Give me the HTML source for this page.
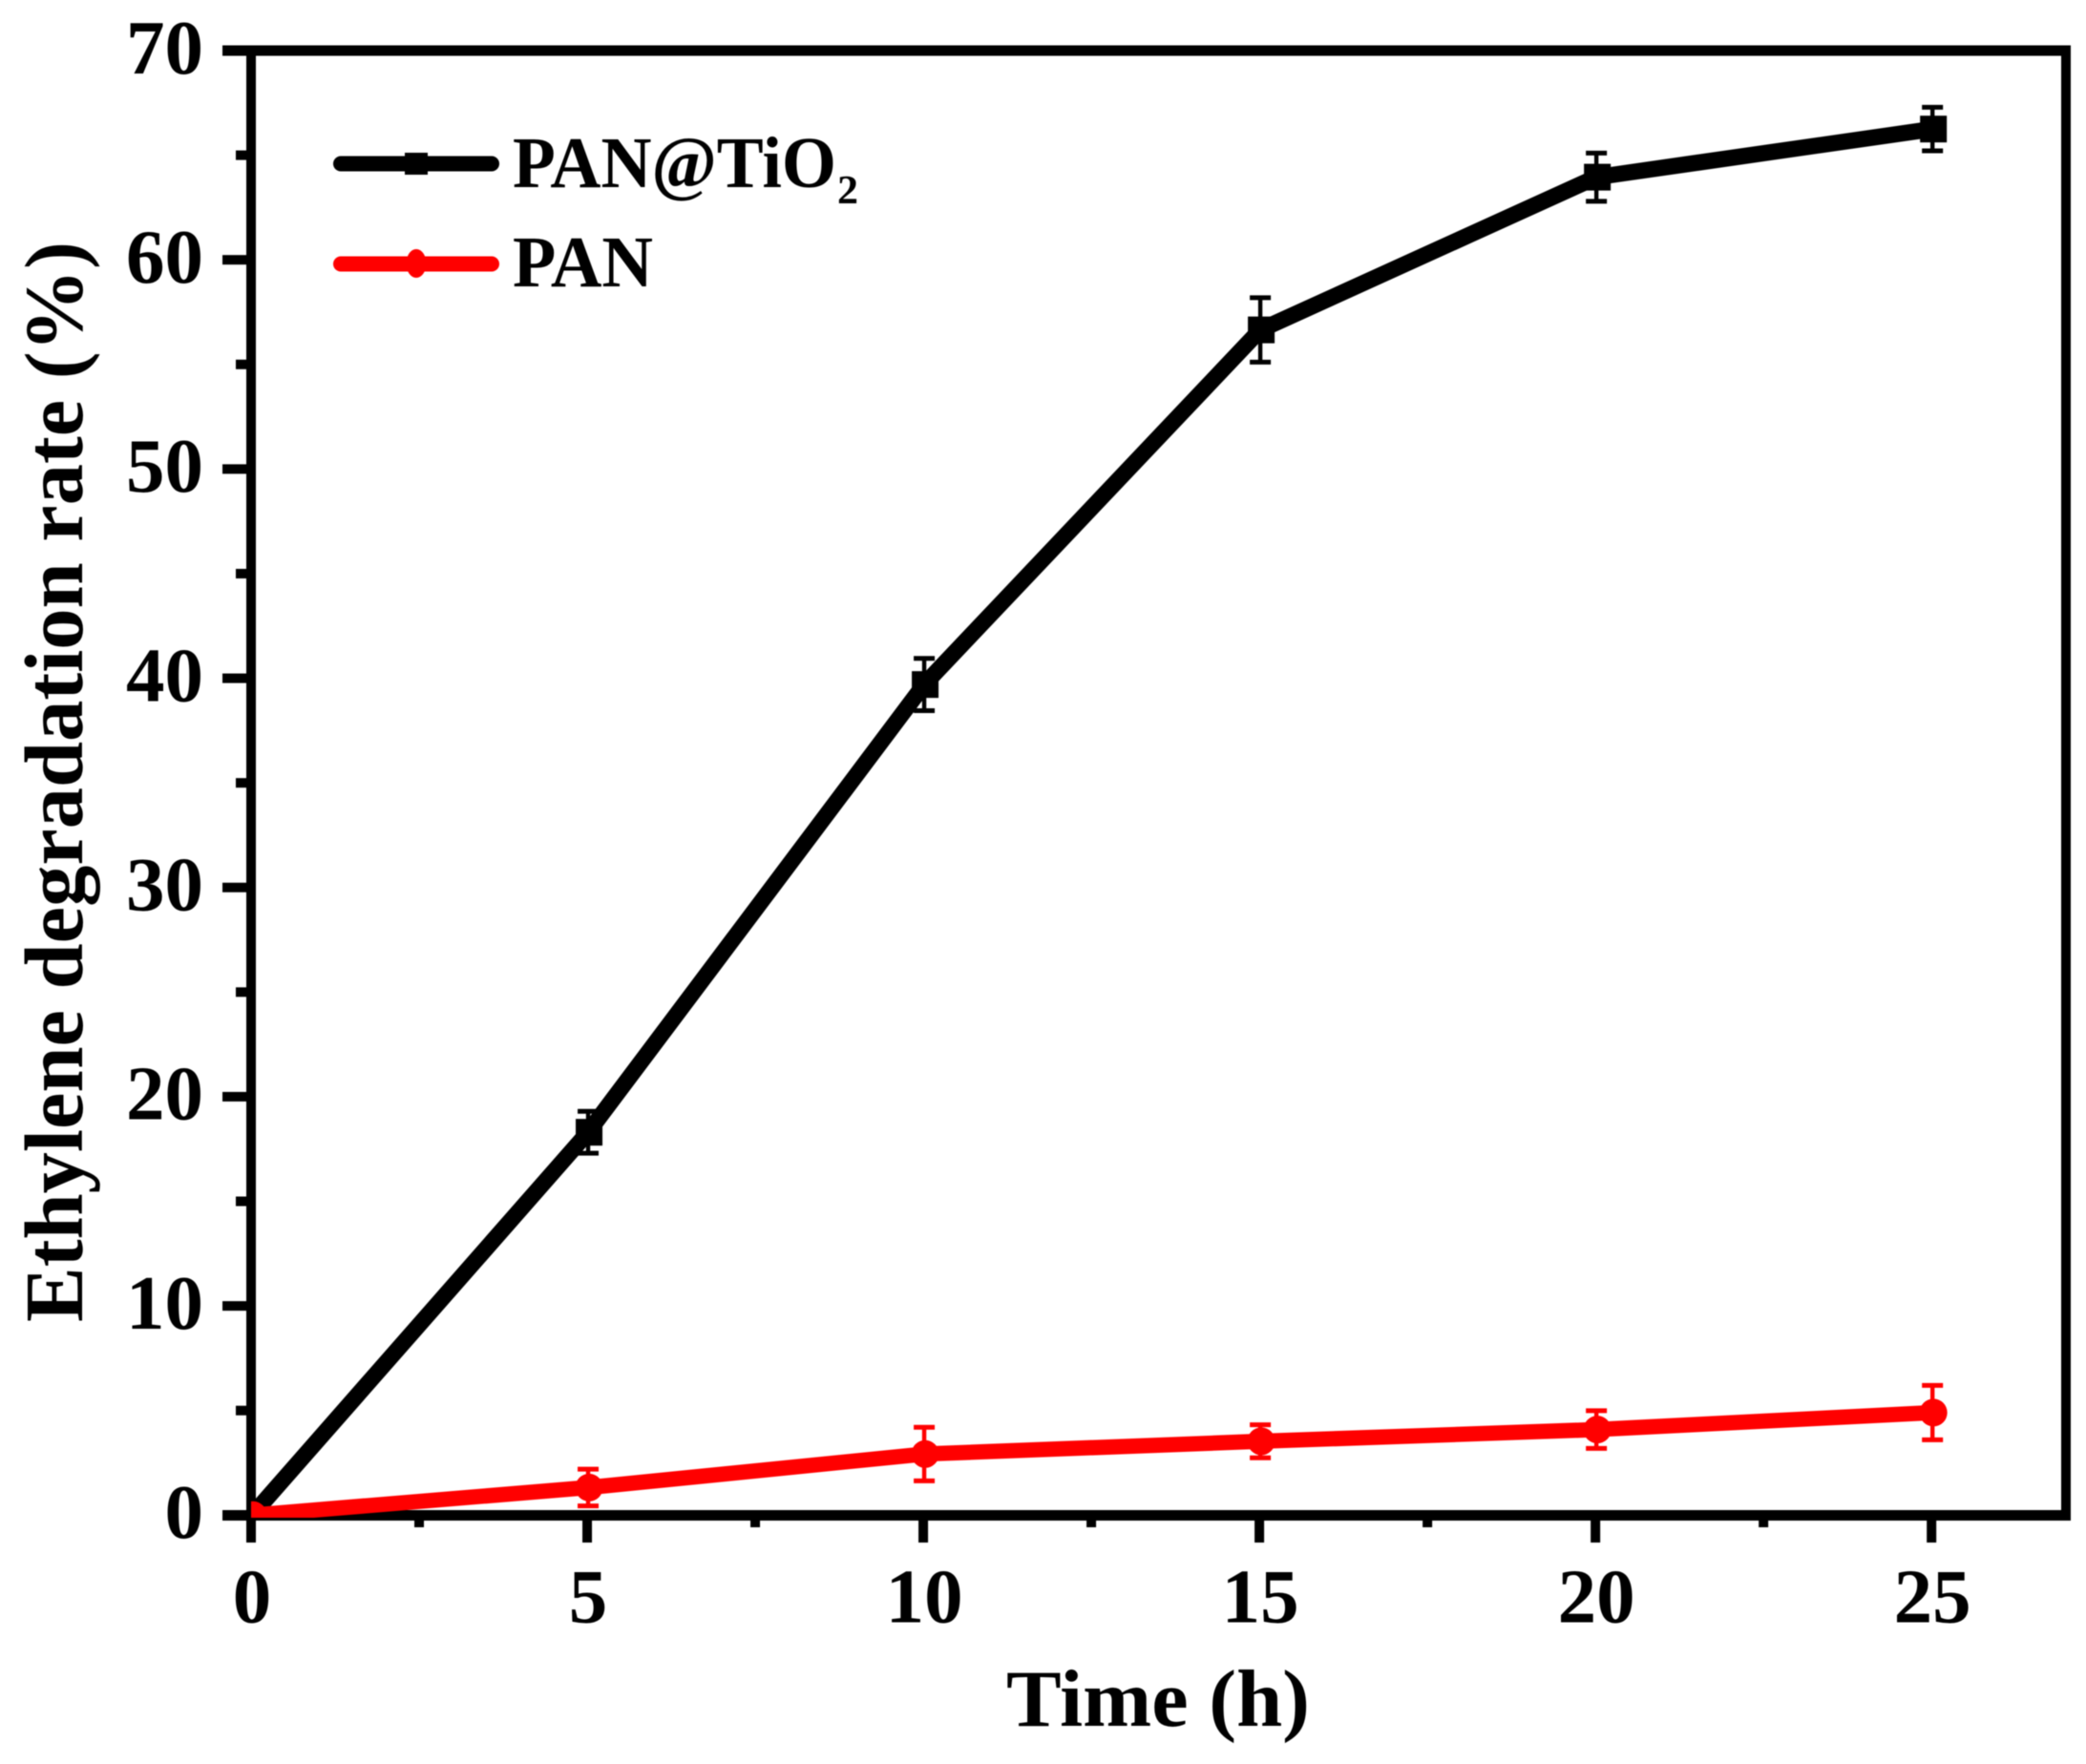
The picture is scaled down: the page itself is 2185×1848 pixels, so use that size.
<!DOCTYPE html>
<html lang="en">
<head>
<meta charset="utf-8">
<title>Ethylene degradation rate</title>
<style>
html,body{margin:0;padding:0;background:#fff;}
svg{display:block;filter:blur(0.6px);}
text{font-family:"Liberation Serif","Times New Roman",serif;font-weight:bold;fill:#000;}
</style>
</head>
<body>
<svg id="chart" xmlns="http://www.w3.org/2000/svg" width="2185" height="1848" viewBox="0 0 2185 1848">
  <rect x="0" y="0" width="2185" height="1848" fill="#fff"/>
  <defs>
    <clipPath id="plot-clip"><rect x="263" y="40" width="1900" height="1550"/></clipPath>
  </defs>
  <g id="axes"></g>
  <g id="series" clip-path="url(#plot-clip)"></g>
  <text transform="translate(86,1385) rotate(-90)" font-size="87" textLength="1132" lengthAdjust="spacingAndGlyphs">Ethylene degradation rate (%)</text>
  <text x="1054" y="1808" font-size="85" textLength="318" lengthAdjust="spacingAndGlyphs">Time (h)</text>
  <g>
    <g>
      <line x1="357" y1="171.5" x2="515" y2="171.5" stroke="#000" stroke-width="16" stroke-linecap="round"/>
      <rect x="424" y="160" width="24" height="23" fill="#000"/>
      <text x="537" y="196" font-size="76" textLength="339" lengthAdjust="spacingAndGlyphs">PAN@TiO</text>
      <text x="877" y="213" font-size="42" textLength="22" lengthAdjust="spacingAndGlyphs">2</text>
    </g>
    <g>
      <line x1="357" y1="276.5" x2="515" y2="276.5" stroke="#f00" stroke-width="16" stroke-linecap="round"/>
      <ellipse cx="436" cy="276" rx="10.5" ry="15" fill="#f00"/>
      <text x="537" y="300" font-size="76" textLength="147" lengthAdjust="spacingAndGlyphs">PAN</text>
    </g>
  </g>
</svg>
<script>
const xMajorTicks = [0, 5, 10, 15, 20, 25];
const xMinorTicks = [2.5, 7.5, 12.5, 17.5, 22.5];
const yMajorTicks = [0, 10, 20, 30, 40, 50, 60, 70];
const yMinorTicks = [5, 15, 25, 35, 45, 55, 65];
const times = [0, 5, 10, 15, 20, 25];
const panTiO2Values = [0, 18.3, 39.7, 56.65, 63.95, 66.25];
const panTiO2Errors = [0, 1.0, 1.25, 1.54, 1.15, 1.04];
const panValues = [0, 1.32, 2.92, 3.53, 4.09, 4.9];
const panErrors = [0, 0.88, 1.28, 0.79, 0.9, 1.3];

const NS = 'http://www.w3.org/2000/svg';
const axesLayer = document.getElementById('axes');
const seriesLayer = document.getElementById('series');

function xScale(v) { return 263 + (v / 27) * 1901; }
function yScale(v) { return 1587.3 - (v / 70) * 1534.3; }

function mk(tag, attrs, parent) {
  const el = document.createElementNS(NS, tag);
  for (const k in attrs) el.setAttribute(k, attrs[k]);
  parent.appendChild(el);
  return el;
}

/* spines */
let spine = mk('rect', { x: 233, y: 47.5, width: 1936, height: 11, fill: '#000' }, axesLayer);


spine = mk('rect', { x: 233, y: 1582, width: 1936, height: 11, fill: '#000' }, axesLayer);


spine = mk('rect', { x: 258, y: 48, width: 10, height: 1568, fill: '#000' }, axesLayer);


spine = mk('rect', { x: 2159, y: 48, width: 10, height: 1545, fill: '#000' }, axesLayer);



/* x ticks and labels */
xMajorTicks.forEach(function (t) {
  const tick = mk('rect', { x: xScale(t) - 5, y: 1590, width: 10, height: 26, fill: '#000' }, axesLayer);
  
  
  const label = mk('text', { x: xScale(t) + 1, y: 1699.5, 'font-size': 81, 'text-anchor': 'middle' }, axesLayer);
  label.textContent = String(t);
  
  
});
xMinorTicks.forEach(function (t) {
  const tick = mk('rect', { x: xScale(t) - 5, y: 1590, width: 10, height: 10, fill: '#000' }, axesLayer);
  
  
});

/* y ticks and labels */
yMajorTicks.forEach(function (t) {
  const tick = mk('rect', { x: 233, y: yScale(t) - 5, width: 28, height: 10, fill: '#000' }, axesLayer);
  
  
  const label = mk('text', { x: 213, y: yScale(t) + 23.8, 'font-size': 81, 'text-anchor': 'end' }, axesLayer);
  label.textContent = String(t);
  
  
});
yMinorTicks.forEach(function (t) {
  const tick = mk('rect', { x: 247, y: yScale(t) - 5, width: 14, height: 10, fill: '#000' }, axesLayer);
  
  
});

/* black series: PAN@TiO2 */
const blackGroup = mk('g', { fill: '#000', stroke: 'none' }, seriesLayer);


times.forEach(function (t, i) {
  if (!panTiO2Errors[i]) return;
  const cx = xScale(t) + 1;
  const hi = yScale(panTiO2Values[i] + panTiO2Errors[i]);
  const lo = yScale(panTiO2Values[i] - panTiO2Errors[i]);
  const d = 'M' + (cx - 2.2) + ' ' + hi + 'H' + (cx + 2.2) + 'V' + lo + 'H' + (cx - 2.2) + 'Z' +
            'M' + (cx - 11) + ' ' + (hi - 2.5) + 'h22v5h-22Z' +
            'M' + (cx - 11) + ' ' + (lo - 2.5) + 'h22v5h-22Z';
  const bar = mk('path', { d: d }, blackGroup);
  
  
});
const blackLine = mk('polyline', {
  points: times.map(function (t, i) { return (xScale(t) + 1) + ',' + yScale(panTiO2Values[i]); }).join(' '),
  fill: 'none', stroke: '#000', 'stroke-width': 17, 'stroke-linejoin': 'round'
}, blackGroup);


times.forEach(function (t, i) {
  const m = mk('rect', { x: xScale(t) + 2 - 14, y: yScale(panTiO2Values[i]) - 14, width: 28, height: 28 }, blackGroup);
  
  
});

/* red series: PAN */
const redGroup = mk('g', { fill: '#f00', stroke: 'none' }, seriesLayer);


times.forEach(function (t, i) {
  if (!panErrors[i]) return;
  const cx = xScale(t) + 1;
  const hi = yScale(panValues[i] + panErrors[i]);
  const lo = yScale(panValues[i] - panErrors[i]);
  const d = 'M' + (cx - 2.2) + ' ' + hi + 'H' + (cx + 2.2) + 'V' + lo + 'H' + (cx - 2.2) + 'Z' +
            'M' + (cx - 11) + ' ' + (hi - 2.5) + 'h22v5h-22Z' +
            'M' + (cx - 11) + ' ' + (lo - 2.5) + 'h22v5h-22Z';
  const bar = mk('path', { d: d }, redGroup);
  
  
});
const redLine = mk('polyline', {
  points: times.map(function (t, i) { return (xScale(t) + 1) + ',' + yScale(panValues[i]); }).join(' '),
  fill: 'none', stroke: '#f00', 'stroke-width': 16, 'stroke-linejoin': 'round'
}, redGroup);


times.forEach(function (t, i) {
  const m = mk('circle', { cx: xScale(t) + 2, cy: yScale(panValues[i]), r: 14.5 }, redGroup);
  
  
});
</script>
</body>
</html>
